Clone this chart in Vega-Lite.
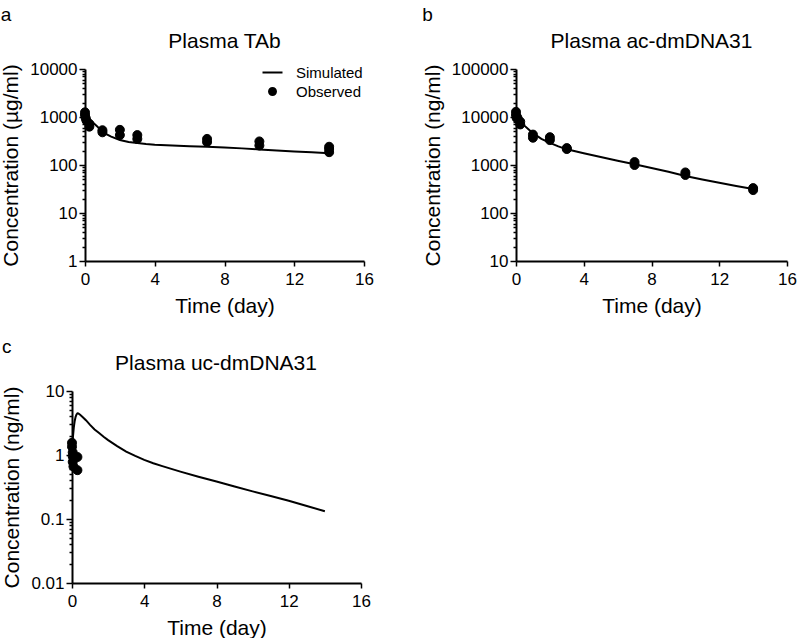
{
  "$schema": "https://vega.github.io/schema/vega-lite/v6.json",
  "padding": {"left": 0, "top": 6, "right": 0, "bottom": 0},
  "background": "white",
  "datasets": {
    "a_sim": [
      {"t": 0, "c": 1150}, {"t": 0.1, "c": 1020}, {"t": 0.2, "c": 920}, {"t": 0.33, "c": 840},
      {"t": 0.5, "c": 740}, {"t": 0.75, "c": 610}, {"t": 1, "c": 510}, {"t": 1.25, "c": 435},
      {"t": 1.5, "c": 390}, {"t": 2, "c": 332}, {"t": 2.5, "c": 302}, {"t": 3, "c": 286},
      {"t": 3.5, "c": 274}, {"t": 4, "c": 265}, {"t": 5, "c": 254}, {"t": 6, "c": 246},
      {"t": 7, "c": 239}, {"t": 8, "c": 231}, {"t": 9, "c": 222}, {"t": 10, "c": 211},
      {"t": 11, "c": 201}, {"t": 12, "c": 192}, {"t": 13, "c": 184}, {"t": 14, "c": 176}
    ],
    "a_obs": [
      {"t": 0, "c": 1250, "series": "Observed"}, {"t": 0, "c": 1100, "series": "Observed"},
      {"t": 0.04, "c": 950, "series": "Observed"}, {"t": 0.08, "c": 850, "series": "Observed"},
      {"t": 0.25, "c": 720, "series": "Observed"}, {"t": 0.25, "c": 630, "series": "Observed"},
      {"t": 1, "c": 530, "series": "Observed"}, {"t": 1, "c": 480, "series": "Observed"},
      {"t": 2, "c": 540, "series": "Observed"}, {"t": 2, "c": 420, "series": "Observed"},
      {"t": 3, "c": 420, "series": "Observed"}, {"t": 3, "c": 350, "series": "Observed"},
      {"t": 7, "c": 350, "series": "Observed"}, {"t": 7, "c": 300, "series": "Observed"},
      {"t": 10, "c": 310, "series": "Observed"}, {"t": 10, "c": 255, "series": "Observed"},
      {"t": 14, "c": 240, "series": "Observed"}, {"t": 14, "c": 215, "series": "Observed"},
      {"t": 14, "c": 185, "series": "Observed"}
    ],
    "b_sim": [
      {"t": 0, "c": 12500}, {"t": 0.1, "c": 10800}, {"t": 0.2, "c": 9000}, {"t": 0.35, "c": 7600},
      {"t": 0.5, "c": 6600}, {"t": 0.75, "c": 5500}, {"t": 1, "c": 4600}, {"t": 1.5, "c": 3500},
      {"t": 2, "c": 2900}, {"t": 2.5, "c": 2450}, {"t": 3, "c": 2120}, {"t": 4, "c": 1760},
      {"t": 5, "c": 1470}, {"t": 6, "c": 1230}, {"t": 7, "c": 1035}, {"t": 8, "c": 870},
      {"t": 9, "c": 720}, {"t": 10, "c": 590}, {"t": 11, "c": 500}, {"t": 12, "c": 425},
      {"t": 13, "c": 365}, {"t": 14, "c": 315}
    ],
    "b_obs": [
      {"t": 0, "c": 12800}, {"t": 0, "c": 11000}, {"t": 0.04, "c": 9500}, {"t": 0.08, "c": 9800},
      {"t": 0.25, "c": 8000}, {"t": 0.25, "c": 7000},
      {"t": 1, "c": 4300}, {"t": 1, "c": 3700},
      {"t": 2, "c": 3800}, {"t": 2, "c": 3300},
      {"t": 3, "c": 2250}, {"t": 3, "c": 2150},
      {"t": 7, "c": 1150}, {"t": 7, "c": 1000},
      {"t": 10, "c": 700}, {"t": 10, "c": 620},
      {"t": 14, "c": 330}, {"t": 14, "c": 300}
    ],
    "c_sim": [
      {"t": 0, "c": 1.2}, {"t": 0.05, "c": 1.9}, {"t": 0.1, "c": 2.7}, {"t": 0.15, "c": 3.4},
      {"t": 0.2, "c": 3.95}, {"t": 0.25, "c": 4.3}, {"t": 0.3, "c": 4.48}, {"t": 0.35, "c": 4.45},
      {"t": 0.45, "c": 4.25}, {"t": 0.6, "c": 3.9}, {"t": 0.77, "c": 3.5}, {"t": 1, "c": 2.95},
      {"t": 1.25, "c": 2.5}, {"t": 1.5, "c": 2.2}, {"t": 1.75, "c": 1.93}, {"t": 2, "c": 1.71},
      {"t": 2.5, "c": 1.38}, {"t": 3, "c": 1.13}, {"t": 3.5, "c": 0.97}, {"t": 4, "c": 0.84},
      {"t": 4.5, "c": 0.745}, {"t": 5, "c": 0.67}, {"t": 6, "c": 0.55}, {"t": 7, "c": 0.457},
      {"t": 8, "c": 0.385}, {"t": 9, "c": 0.322}, {"t": 10, "c": 0.27}, {"t": 11, "c": 0.228},
      {"t": 12, "c": 0.193}, {"t": 13, "c": 0.16}, {"t": 14, "c": 0.132}
    ],
    "c_obs": [
      {"t": 0, "c": 1.55}, {"t": 0, "c": 1.35}, {"t": 0.04, "c": 1.1}, {"t": 0.04, "c": 0.95},
      {"t": 0.04, "c": 0.78}, {"t": 0.08, "c": 0.66}, {"t": 0.3, "c": 0.93}, {"t": 0.3, "c": 0.58}
    ]
  },
  "columns": 2,
  "align": "none",
  "spacing": {"row": 22, "column": 48},
  "concat": [
    {
      "title": {"text": "a", "anchor": "start", "fontSize": 19, "offset": 6},
      "vconcat": [
        {
          "title": {"text": "Plasma TAb"},
          "width": 279,
          "height": 192,
          "encoding": {
            "x": {"field": "t", "type": "quantitative", "scale": {"domain": [0, 16], "nice": false},
                  "axis": {"values": [0, 4, 8, 12, 16], "title": "Time (day)"}},
            "y": {"field": "c", "type": "quantitative", "scale": {"type": "log", "domain": [1, 10000], "nice": false},
                  "axis": {"title": "Concentration (µg/ml)", "format": "~g",
                           "values": [1,2,3,4,5,6,7,8,9,10,20,30,40,50,60,70,80,90,100,200,300,400,500,600,700,800,900,1000,2000,3000,4000,5000,6000,7000,8000,9000,10000],
                           "labelExpr": "abs(log(datum.value)/LN10 - round(log(datum.value)/LN10)) < 0.001 ? datum.label : ''",
                           "tickSize": {"condition": {"test": "abs(log(datum.value)/LN10 - round(log(datum.value)/LN10)) < 0.001", "value": 6}, "value": 3}}}
          },
          "layer": [
            {"data": {"name": "a_sim"}, "mark": {"type": "line", "color": "black", "strokeWidth": 2}},
            {"data": {"name": "a_obs"},
             "mark": {"type": "point", "filled": true, "size": 400, "fill": "black", "stroke": "black", "opacity": 1, "strokeWidth": 1},
             "encoding": {
               "shape": {"field": "series", "type": "nominal",
                         "scale": {"domain": ["Simulated", "Observed"], "range": ["M-1,-0.1H1V0.1H-1Z", "M-0.45,0A0.45,0.45,0,1,0,0.45,0A0.45,0.45,0,1,0,-0.45,0Z"]},
                         "legend": {"title": null, "orient": "none", "legendX": 177, "legendY": -7, "symbolSize": 400,
                                    "symbolFillColor": "black", "symbolStrokeColor": "black", "symbolStrokeWidth": 1,
                                    "labelFontSize": 15, "labelFont": "Liberation Sans", "labelColor": "black",
                                    "labelOffset": 13, "rowPadding": -3, "padding": 0}}
             }}
          ]
        }
      ]
    },
    {
      "title": {"text": "b", "anchor": "start", "fontSize": 19, "offset": 6},
      "vconcat": [
        {
          "title": {"text": "Plasma ac-dmDNA31"},
          "width": 271,
          "height": 192,
          "encoding": {
            "x": {"field": "t", "type": "quantitative", "scale": {"domain": [0, 16], "nice": false},
                  "axis": {"values": [0, 4, 8, 12, 16], "title": "Time (day)"}},
            "y": {"field": "c", "type": "quantitative", "scale": {"type": "log", "domain": [10, 100000], "nice": false},
                  "axis": {"title": "Concentration (ng/ml)", "format": "~g",
                           "values": [10,20,30,40,50,60,70,80,90,100,200,300,400,500,600,700,800,900,1000,2000,3000,4000,5000,6000,7000,8000,9000,10000,20000,30000,40000,50000,60000,70000,80000,90000,100000],
                           "labelExpr": "abs(log(datum.value)/LN10 - round(log(datum.value)/LN10)) < 0.001 ? datum.label : ''",
                           "tickSize": {"condition": {"test": "abs(log(datum.value)/LN10 - round(log(datum.value)/LN10)) < 0.001", "value": 6}, "value": 3}}}
          },
          "layer": [
            {"data": {"name": "b_sim"}, "mark": {"type": "line", "color": "black", "strokeWidth": 2}},
            {"data": {"name": "b_obs"},
             "mark": {"type": "point", "filled": true, "size": 400, "fill": "black", "stroke": "black", "opacity": 1, "strokeWidth": 1,
                      "shape": "M-0.45,0A0.45,0.45,0,1,0,0.45,0A0.45,0.45,0,1,0,-0.45,0Z"}}
          ]
        }
      ]
    },
    {
      "title": {"text": "c", "anchor": "start", "fontSize": 19, "offset": -4},
      "vconcat": [
        {
          "title": {"text": "Plasma uc-dmDNA31", "dx": -7},
          "width": 276,
          "height": 192,
          "encoding": {
            "x": {"field": "t", "type": "quantitative", "scale": {"domain": [0, 16], "nice": false, "range": [-13, 276]},
                  "axis": {"values": [0, 4, 8, 12, 16], "title": "Time (day)"}},
            "y": {"field": "c", "type": "quantitative", "scale": {"type": "log", "domain": [0.01, 10], "nice": false},
                  "axis": {"title": "Concentration (ng/ml)", "format": "~g", "offset": 13,
                           "values": [0.01,0.02,0.03,0.04,0.05,0.06,0.07,0.08,0.09,0.1,0.2,0.3,0.4,0.5,0.6,0.7,0.8,0.9,1,2,3,4,5,6,7,8,9,10],
                           "labelExpr": "abs(log(datum.value)/LN10 - round(log(datum.value)/LN10)) < 0.001 ? datum.label : ''",
                           "tickSize": {"condition": {"test": "abs(log(datum.value)/LN10 - round(log(datum.value)/LN10)) < 0.001", "value": 6}, "value": 3}}}
          },
          "layer": [
            {"data": {"name": "c_sim"}, "mark": {"type": "line", "color": "black", "strokeWidth": 2}},
            {"data": {"name": "c_obs"},
             "mark": {"type": "point", "filled": true, "size": 400, "fill": "black", "stroke": "black", "opacity": 1, "strokeWidth": 1,
                      "shape": "M-0.45,0A0.45,0.45,0,1,0,0.45,0A0.45,0.45,0,1,0,-0.45,0Z"}}
          ]
        }
      ]
    }
  ],
  "config": {
    "view": {"stroke": null},
    "font": "Liberation Sans",
    "title": {"font": "Liberation Sans", "fontSize": 21, "fontWeight": "normal", "color": "black", "baseline": "alphabetic", "offset": 8},
    "axis": {
      "grid": false,
      "domainColor": "black", "domainWidth": 2,
      "tickColor": "black", "tickWidth": 1.5,
      "labelColor": "black", "labelFont": "Liberation Sans", "labelFontSize": 17,
      "titleColor": "black", "titleFont": "Liberation Sans", "titleFontSize": 21, "titleFontWeight": "normal",
      "labelOverlap": false, "labelFlush": false
    },
    "axisX": {"tickSize": 5, "labelPadding": 5, "titlePadding": 8},
    "axisY": {"labelPadding": 2, "titlePadding": 8}
  }
}
